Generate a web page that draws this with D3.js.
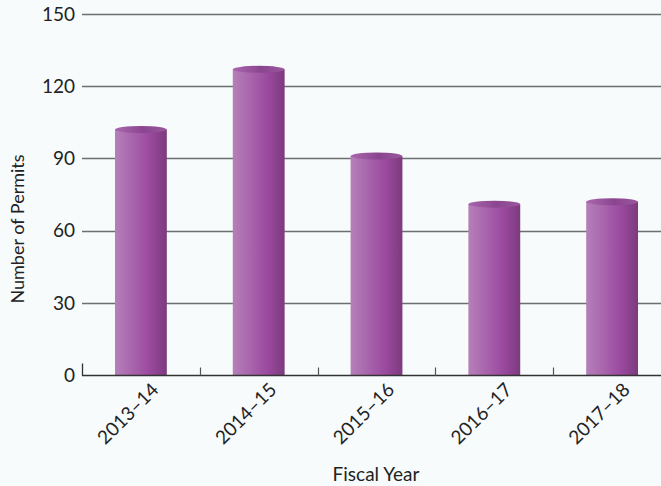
<!DOCTYPE html>
<html>
<head>
<meta charset="utf-8">
<script src="https://cdn.jsdelivr.net/npm/d3@7"></script>
<style>
  body { margin: 0; background: #f7fbfc; }
  svg { display: block; }
</style>
</head>
<body>
<div class="permitChart"></div>
<script>
// Data
const fiscalYears = ["2013–14", "2014–15", "2015–16", "2016–17", "2017–18"];
const permitCounts = [102, 127, 91, 71, 72];
const yTicks = [0, 30, 60, 90, 120, 150];

const width = 661;
const height = 486;
const margin = { top: 14, right: 0, bottom: 111, left: 82 };
const fontFamily = "Lato, 'Liberation Sans', sans-serif";

const svg = d3.select(".permitChart")
  .append("svg")
  .attr("width", width)
  .attr("height", height);

svg.append("rect")
  .attr("width", width)
  .attr("height", height)
  .attr("fill", "#f7fbfc");

// Scales (the band range runs a little past the right edge, like the original)
const x = d3.scaleBand()
  .domain(fiscalYears)
  .range([margin.left, 671])
  .paddingInner(0.56)
  .paddingOuter(0.28);

const y = d3.scaleLinear()
  .domain([0, 150])
  .range([height - margin.bottom, margin.top]);

// Gradients for the cylinders
const defs = svg.append("defs");
const bodyGrad = defs.append("linearGradient")
  .attr("id", "barBody")
  .attr("x1", "0%").attr("x2", "100%").attr("y1", "0%").attr("y2", "0%");
bodyGrad.append("stop").attr("offset", "0%").attr("stop-color", "#b580b9");
bodyGrad.append("stop").attr("offset", "65%").attr("stop-color", "#9c4ba0");
bodyGrad.append("stop").attr("offset", "100%").attr("stop-color", "#7c3a7e");

const capGrad = defs.append("linearGradient")
  .attr("id", "barCap")
  .attr("x1", "0%").attr("x2", "100%").attr("y1", "0%").attr("y2", "0%");
capGrad.append("stop").attr("offset", "0%").attr("stop-color", "#a867ac");
capGrad.append("stop").attr("offset", "55%").attr("stop-color", "#8b4590");
capGrad.append("stop").attr("offset", "100%").attr("stop-color", "#9a589d");

// Gridlines
svg.append("g")
  .selectAll("line")
  .data(yTicks.filter(d => d > 0))
  .join("line")
  .attr("x1", margin.left)
  .attr("x2", width)
  .attr("y1", d => Math.round(y(d)) + 0.5)
  .attr("y2", d => Math.round(y(d)) + 0.5)
  .attr("stroke", "#6e6e6e")
  .attr("stroke-width", 1.3);

// Y tick labels
svg.append("g")
  .selectAll("text")
  .data(yTicks)
  .join("text")
  .attr("x", 75)
  .attr("y", d => y(d))
  .attr("dy", "0.36em")
  .attr("text-anchor", "end")
  .style("font-family", fontFamily)
  .style("font-size", "19px")
  .style("fill", "#222")
  .text(d => d);

// Cylinder bars
const capRy = 3.5;
const bars = svg.append("g")
  .selectAll("g")
  .data(fiscalYears.map((d, i) => ({ year: d, value: permitCounts[i] })))
  .join("g");

bars.append("rect")
  .attr("x", d => x(d.year))
  .attr("y", d => y(d.value))
  .attr("width", x.bandwidth())
  .attr("height", d => y(0) - y(d.value))
  .attr("fill", "url(#barBody)");

bars.append("ellipse")
  .attr("cx", d => x(d.year) + x.bandwidth() / 2)
  .attr("cy", d => y(d.value))
  .attr("rx", x.bandwidth() / 2)
  .attr("ry", capRy)
  .attr("fill", "url(#barCap)");

// X axis line and ticks
const axisY = Math.round(y(0)) + 0.5;
svg.append("line")
  .attr("x1", margin.left)
  .attr("x2", width)
  .attr("y1", axisY)
  .attr("y2", axisY)
  .attr("stroke", "#333")
  .attr("stroke-width", 1.3);

svg.append("line")
  .attr("x1", margin.left + 0.5)
  .attr("x2", margin.left + 0.5)
  .attr("y1", axisY - 12)
  .attr("y2", axisY)
  .attr("stroke", "#333")
  .attr("stroke-width", 1.3);

svg.append("g")
  .selectAll("line")
  .data(fiscalYears.slice(0, -1))
  .join("line")
  .attr("x1", d => Math.round(x(d) + x.bandwidth() / 2 + x.step() / 2) + 0.5)
  .attr("x2", d => Math.round(x(d) + x.bandwidth() / 2 + x.step() / 2) + 0.5)
  .attr("y1", axisY - 8)
  .attr("y2", axisY)
  .attr("stroke", "#555")
  .attr("stroke-width", 1.2);

// X tick labels, rotated
svg.append("g")
  .selectAll("text")
  .data(fiscalYears)
  .join("text")
  .attr("transform", d => `translate(${x(d) + x.bandwidth() / 2 + 19}, 391) rotate(-45)`)
  .attr("text-anchor", "end")
  .style("font-family", fontFamily)
  .style("font-size", "19px")
  .style("fill", "#222")
  .text(d => d);

// Axis titles
svg.append("text")
  .attr("x", 376)
  .attr("y", 481)
  .attr("text-anchor", "middle")
  .style("font-family", fontFamily)
  .style("font-size", "19px")
  .style("fill", "#222")
  .text("Fiscal Year");

svg.append("text")
  .attr("transform", "translate(24, 229) rotate(-90)")
  .attr("text-anchor", "middle")
  .style("font-family", fontFamily)
  .style("font-size", "18px")
  .style("fill", "#222")
  .text("Number of Permits");
</script>
</body>
</html>
